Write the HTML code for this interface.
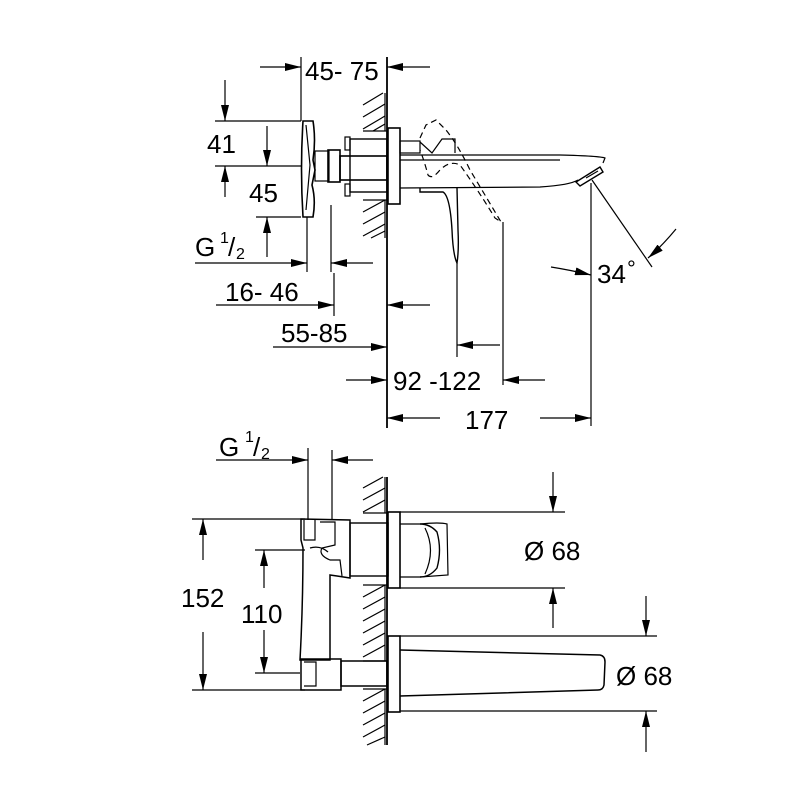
<!DOCTYPE html>
<html><head><meta charset="utf-8"><style>
html,body{margin:0;padding:0;background:#fff;}
svg{display:block;}
text{font-family:"Liberation Sans",sans-serif;fill:#000;}
</style></head><body>
<svg width="800" height="800" viewBox="0 0 800 800" xmlns="http://www.w3.org/2000/svg">
<defs>
<marker id="a" viewBox="0 0 16 8" refX="16" refY="4" markerWidth="16" markerHeight="8" markerUnits="userSpaceOnUse" orient="auto"><path d="M0,0 L16,4 L0,8 Z" fill="#000"/></marker>
</defs>
<g stroke="#000" stroke-width="1.2" fill="none">
<line x1="387" y1="57" x2="387" y2="428" stroke-width="1.8"/>
<line x1="363" y1="131" x2="387" y2="131"/>
<line x1="363" y1="200" x2="387" y2="200"/>
<path d="M363,105 L383,93 M363,117 L385,104 M363,129 L385,116 M373,131 L385,124"/>
<path d="M385,93 L385,131 M385,200 L385,238"/>
<path d="M363,212 L385,200 M363,224 L385,212 M363,236 L385,224 M371,238 L385,231"/>
<line x1="301" y1="57" x2="301" y2="121"/>
<line x1="260" y1="67" x2="301" y2="67" marker-end="url(#a)"/>
<line x1="430" y1="67" x2="387" y2="67" marker-end="url(#a)"/>
<path d="M303,121 Q300,169 303,217 L313,217 Q316,200 312,185 L315,170 L313,160 Q316,140 313,121 Z" stroke-width="1.6"/>
<path d="M306,125 L310,165 L306,210"/>
<rect x="315" y="151" width="14" height="30"/>
<rect x="328" y="150" width="12" height="32" stroke-width="1.6"/>
<rect x="340" y="156" width="47" height="24" stroke-width="1.6"/>
<rect x="350" y="139" width="37" height="53" stroke-width="1.4"/>
<rect x="345" y="137" width="5" height="13"/>
<rect x="345" y="184" width="5" height="12"/>
<rect x="388" y="128" width="12" height="76" stroke-width="1.6"/>
<rect x="400" y="141" width="20" height="12"/>
<path d="M420,142 L432,153 L442,139 L455,139 L455,153"/>
<path d="M400,155 L560,155 Q600,156 605,158 L603,163"/>
<path d="M400,160 L560,160"/>
<path d="M400,188 L540,187 Q570,185 578,180"/>
<path d="M576,182 L580,186 L603,172 L600,167 Z" stroke-width="1.4"/>
<path d="M586,178 L598,171"/>
<path d="M420,188 L420,192 L443,192 Q450,196 452,230 Q453,255 457,263 Q459,250 458,230 L457,188" stroke-width="1.4"/>
<path d="M420,138 L426,125 L436,120 L446,130 Q458,145 470,170 Q488,200 501,222 L495,218 Q478,190 460,165 Q450,160 440,170 Q432,180 428,175 Q424,160 420,150" stroke-dasharray="6,4"/>
<line x1="215" y1="121" x2="301" y2="121"/>
<line x1="215" y1="166" x2="301" y2="166"/>
<line x1="256" y1="217" x2="301" y2="217"/>
<line x1="225" y1="80" x2="225" y2="121" marker-end="url(#a)"/>
<line x1="225" y1="197" x2="225" y2="166" marker-end="url(#a)"/>
<line x1="267" y1="126" x2="267" y2="166" marker-end="url(#a)"/>
<line x1="267" y1="257" x2="267" y2="217" marker-end="url(#a)"/>
<line x1="307" y1="217" x2="307" y2="272"/>
<line x1="331" y1="205" x2="331" y2="272"/>
<line x1="195" y1="263" x2="307" y2="263" marker-end="url(#a)"/>
<line x1="373" y1="263" x2="331" y2="263" marker-end="url(#a)"/>
<line x1="334" y1="273" x2="334" y2="316"/>
<line x1="216" y1="305" x2="334" y2="305" marker-end="url(#a)"/>
<line x1="430" y1="305" x2="387" y2="305" marker-end="url(#a)"/>
<line x1="273" y1="347" x2="387" y2="347" marker-end="url(#a)"/>
<line x1="457" y1="263" x2="457" y2="357"/>
<line x1="503" y1="222" x2="503" y2="385"/>
<line x1="500" y1="345" x2="457" y2="345" marker-end="url(#a)"/>
<line x1="346" y1="380" x2="387" y2="380" marker-end="url(#a)"/>
<line x1="545" y1="380" x2="503" y2="380" marker-end="url(#a)"/>
<line x1="591" y1="183" x2="591" y2="426"/>
<line x1="440" y1="418" x2="387" y2="418" marker-end="url(#a)"/>
<line x1="540" y1="418" x2="591" y2="418" marker-end="url(#a)"/>
<line x1="592" y1="180" x2="652" y2="267"/>
<path d="M551,267 Q570,270 591,275" marker-end="url(#a)"/>
<path d="M676,229 Q662,246 648,258" marker-end="url(#a)"/>

<line x1="387" y1="477" x2="387" y2="745" stroke-width="1.8"/>
<line x1="363" y1="513" x2="387" y2="513"/>
<line x1="363" y1="585" x2="387" y2="585"/>
<line x1="363" y1="661" x2="387" y2="661"/>
<line x1="363" y1="689" x2="387" y2="689"/>
<path d="M385,477 L385,513 M385,585 L385,661 M385,689 L385,745"/>
<path d="M363,488 L383,477 M363,500 L385,488 M363,512 L385,500"/>
<path d="M363,597 L385,585 M363,609 L385,597 M363,621 L385,609 M363,633 L385,621 M363,645 L385,633 M363,657 L385,645"/>
<path d="M363,701 L385,689 M363,713 L385,701 M363,725 L385,713 M363,737 L385,725 M367,745 L385,737"/>
<line x1="308" y1="448" x2="308" y2="520"/>
<line x1="332" y1="450" x2="332" y2="520"/>
<line x1="216" y1="460" x2="308" y2="460" marker-end="url(#a)"/>
<line x1="373" y1="460" x2="332" y2="460" marker-end="url(#a)"/>
<rect x="388" y="512" width="12" height="76" stroke-width="1.6"/>
<rect x="350" y="523" width="38" height="53" stroke-width="1.4"/>
<path d="M400,524 L420,524 Q440,522 447,524 L448,575 L420,577 L400,577"/>
<path d="M420,524 Q430,524 437,532 Q442,550 437,568 Q430,577 420,577" stroke-width="1.4"/>
<path d="M425,528 Q436,550 425,574"/>
<line x1="400" y1="512" x2="565" y2="512"/>
<line x1="400" y1="588" x2="565" y2="588"/>
<line x1="553" y1="472" x2="553" y2="512" marker-end="url(#a)"/>
<line x1="553" y1="628" x2="553" y2="588" marker-end="url(#a)"/>
<path d="M301,519 L350,520 L350,578 L337,576 L330,575 L330,660 L300,660 Q303,605 303,548 L301,540 Z" stroke-width="1.5"/>
<path d="M304,520 L304,540 L315,540 L315,520"/>
<path d="M320,522 L335,522 L335,545 L322,548 Q318,555 330,560 L340,560 L342,576"/>
<path d="M310,548 Q320,545 328,552"/>
<rect x="301" y="659" width="40" height="31" stroke-width="1.5"/>
<path d="M304,662 L316,662 L316,686 L304,686"/>
<rect x="341" y="661" width="46" height="25" stroke-width="1.5"/>
<line x1="192" y1="519" x2="305" y2="519"/>
<line x1="192" y1="690" x2="305" y2="690"/>
<line x1="203" y1="560" x2="203" y2="519" marker-end="url(#a)"/>
<line x1="203" y1="632" x2="203" y2="690" marker-end="url(#a)"/>
<line x1="255" y1="550" x2="305" y2="550"/>
<line x1="255" y1="673" x2="300" y2="673"/>
<line x1="264" y1="588" x2="264" y2="550" marker-end="url(#a)"/>
<line x1="264" y1="630" x2="264" y2="673" marker-end="url(#a)"/>
<rect x="388" y="636" width="12" height="76" stroke-width="1.6"/>
<path d="M400,650 L600,655 Q605,656 605,662 L604,685 Q603,690 598,690 L400,696" stroke-width="1.5"/>
<line x1="400" y1="636" x2="657" y2="636"/>
<line x1="400" y1="711" x2="657" y2="711"/>
<line x1="646" y1="596" x2="646" y2="636" marker-end="url(#a)"/>
<line x1="646" y1="752" x2="646" y2="711" marker-end="url(#a)"/>
</g>
<g font-size="26">
<text x="305" y="80">45- 75</text>
<text x="207" y="153">41</text>
<text x="249" y="202">45</text>
<text x="195" y="256">G</text><text x="220" y="243" font-size="16">1</text><text x="228" y="256">/</text><text x="236" y="259" font-size="16">2</text>
<text x="225" y="301">16- 46</text>
<text x="281" y="342">55-85</text>
<text x="393" y="390">92 -122</text>
<rect x="440" y="404" width="100" height="28" fill="#fff"/>
<text x="465" y="429">177</text>
<text x="597" y="283">34</text><text x="627" y="276" font-size="22">°</text>
<text x="219" y="456">G</text><text x="245" y="442" font-size="16">1</text><text x="253" y="456">/</text><text x="261" y="459" font-size="16">2</text>
<rect x="178" y="582" width="54" height="30" fill="#fff"/>
<text x="181" y="607">152</text>
<rect x="238" y="598" width="54" height="30" fill="#fff"/>
<text x="241" y="623">110</text>
<text x="524" y="560">Ø 68</text>
<text x="616" y="685">Ø 68</text>
</g>
</svg>
</body></html>
